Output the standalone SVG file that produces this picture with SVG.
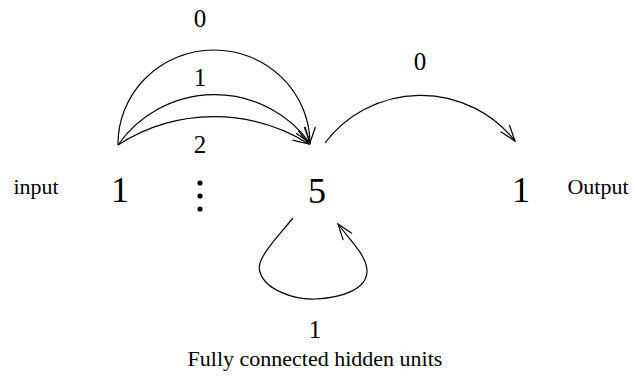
<svg xmlns="http://www.w3.org/2000/svg" width="635" height="385" viewBox="0 0 635 385">
<style>
text{font-family:'Liberation Serif',serif;fill:#000;text-anchor:middle}
.big{font-size:36px}
.lbl{font-size:25px}
.word{font-size:22px}
.edge{fill:none;stroke:#000;stroke-width:1.2;marker-end:url(#arr)}
</style>
<defs>
<marker id="arr" markerUnits="userSpaceOnUse" orient="auto" refX="0" refY="0" markerWidth="30" markerHeight="30" viewBox="-20 -10 30 20" overflow="visible">
<path d="M-16,-5.5 L0,0 L-16,5.5" fill="none" stroke="#000" stroke-width="1.2"/>
</marker>
</defs>
<rect width="635" height="385" fill="#fff"/>
<g id="connectors">
<path class="edge" d="M118 145 A96 94 0 0 1 310 143"/>
<path class="edge" d="M118 145 A118 118 0 0 1 310 143"/>
<path class="edge" d="M118 145 A178 178 0 0 1 309 144"/>
<path class="edge" d="M325 143 A120 120 0 0 1 515 141"/>
<path class="edge" d="M293 218 C275 240 255 260 260 272 C265 290 295 300 315 299 C340 298 368 290 367 270 C366 255 350 240 338 224"/>
<text class="lbl" x="200" y="27" font-family="'Liberation Serif', serif">0</text>
<text class="lbl" x="200" y="86" font-family="'Liberation Serif', serif">1</text>
<text class="lbl" x="200" y="153" font-family="'Liberation Serif', serif">2</text>
<text class="lbl" x="420" y="70" font-family="'Liberation Serif', serif">0</text>
<text class="lbl" x="315" y="338" font-family="'Liberation Serif', serif">1</text>
</g>
<g id="input-label"><text class="word" x="36" y="194" font-family="'Liberation Serif', serif">input</text></g>
<g id="node-input"><text class="big" x="120" y="202" font-family="'Liberation Serif', serif">1</text></g>
<g id="ellipsis">
<circle cx="200" cy="183" r="2.6"/>
<circle cx="200" cy="196" r="2.6"/>
<circle cx="200" cy="209" r="2.6"/>
</g>
<g id="node-hidden"><text class="big" x="317" y="203" font-family="'Liberation Serif', serif">5</text></g>
<g id="node-output"><text class="big" x="521" y="202" font-family="'Liberation Serif', serif">1</text></g>
<g id="output-label"><text class="word" x="598" y="194" font-family="'Liberation Serif', serif">Output</text></g>
<g id="caption"><text class="word" x="315" y="366" font-family="'Liberation Serif', serif">Fully connected hidden units</text></g>
</svg>
